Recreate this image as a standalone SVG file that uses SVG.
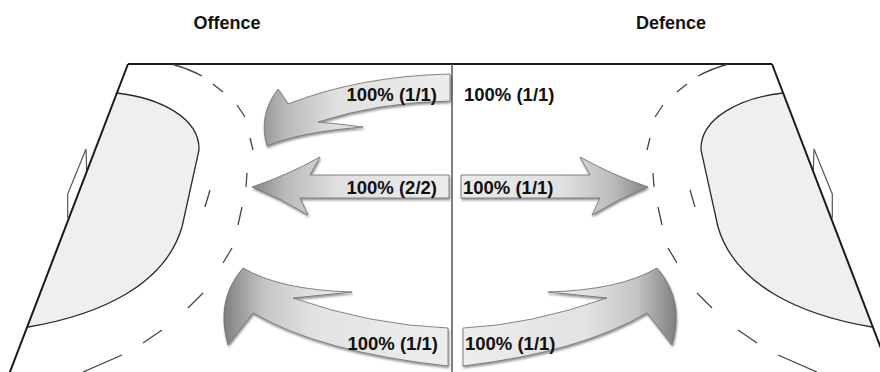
<svg xmlns="http://www.w3.org/2000/svg" width="880" height="372" viewBox="0 0 880 372">
  <style>
    .court { fill: none; stroke: #1a1a1a; stroke-width: 2; }
    .mid { fill: none; stroke: #555; stroke-width: 1.5; }
    .area { fill: #efefef; stroke: #2a2a2a; stroke-width: 1.3; }
    .goal { fill: none; stroke: #555; stroke-width: 1.2; }
    .dash { fill: none; stroke: #444; stroke-width: 1.3; stroke-linecap: butt; }
    .title { font-family: "Liberation Sans", Arial, sans-serif; font-weight: bold; font-size: 18px; fill: #111; text-anchor: middle; }
    .lbl { font-family: "Liberation Sans", Arial, sans-serif; font-weight: bold; font-size: 18.5px; fill: #111; }
    .arrL { fill: url(#gL); stroke: #6a6a6a; stroke-width: 0.8; filter: url(#sh); }
    .arrR { fill: url(#gR); stroke: #6a6a6a; stroke-width: 0.8; filter: url(#sh); }
    .arrLb { fill: url(#gLb); stroke: #6a6a6a; stroke-width: 0.8; filter: url(#sh); }
    .arrRb { fill: url(#gRb); stroke: #6a6a6a; stroke-width: 0.8; filter: url(#sh); }
  </style>
  <defs>
    <linearGradient id="gL" gradientUnits="userSpaceOnUse" x1="450" y1="0" x2="245" y2="0">
      <stop offset="0" stop-color="#ececec"/>
      <stop offset="0.55" stop-color="#e0e0e0"/>
      <stop offset="0.8" stop-color="#bababa"/>
      <stop offset="1" stop-color="#7a7a7a"/>
    </linearGradient>
    <linearGradient id="gR" gradientUnits="userSpaceOnUse" x1="450" y1="0" x2="655" y2="0">
      <stop offset="0" stop-color="#ececec"/>
      <stop offset="0.55" stop-color="#e0e0e0"/>
      <stop offset="0.8" stop-color="#bababa"/>
      <stop offset="1" stop-color="#7a7a7a"/>
    </linearGradient>
    <linearGradient id="gLb" gradientUnits="userSpaceOnUse" x1="450" y1="0" x2="222" y2="0">
      <stop offset="0" stop-color="#eeeeee"/>
      <stop offset="0.6" stop-color="#e2e2e2"/>
      <stop offset="0.82" stop-color="#c4c4c4"/>
      <stop offset="1" stop-color="#7c7c7c"/>
    </linearGradient>
    <linearGradient id="gRb" gradientUnits="userSpaceOnUse" x1="450" y1="0" x2="678" y2="0">
      <stop offset="0" stop-color="#eeeeee"/>
      <stop offset="0.6" stop-color="#e2e2e2"/>
      <stop offset="0.82" stop-color="#c4c4c4"/>
      <stop offset="1" stop-color="#7c7c7c"/>
    </linearGradient>
    <filter id="sh" x="-10%" y="-20%" width="120%" height="150%">
      <feDropShadow dx="0.8" dy="1.8" stdDeviation="1" flood-color="#000" flood-opacity="0.45"/>
    </filter>
    <g id="half">
      <path class="area" d="M117,93 C160,98 200,118 199,150 L182,227 C165,285 100,315 28,327"/>
      <polyline class="goal" points="86.7,171.7 86,149 67.7,194 67.7,218"/>
      <path class="dash" d="M173,64.5 Q189,69 202,76 M213,84 L223,92 M237,105 L245,117 M250,138 L253,150 M247,173 L246,187 M242,207 L238,225 M232,248 L223,263 M203,293 L188,308 M162,330 L143,343 M122,355 L83,372 M210,190 L205,207"/>
      <line class="court" x1="128" y1="64" x2="8" y2="377"/>
    </g>
  </defs>

  <g id="court">
    <line class="court" x1="128" y1="64" x2="772" y2="64"/>
    <line class="mid" x1="452" y1="64" x2="452" y2="372"/>
  </g>
  <g id="left-goal-area">
    <use href="#half"/>
  </g>
  <g id="right-goal-area">
    <use href="#half" transform="matrix(-1 0 0 1 900 0)"/>
  </g>

  <g id="titles">
    <text class="title" x="227" y="29">Offence</text>
    <text class="title" x="671" y="29">Defence</text>
  </g>

  <g id="connectors">
    <path class="arrL" d="M450,74 Q360,76 288,104 L278,89 Q258,115 267,146 Q300,132 363,127 Q340,124 318,122 Q380,102 450,101 Z"/>
    <path class="arrL" d="M449,175 L310,175 L320,157 Q288,175 252,187 Q282,199 308,215 L300,198 L449,198 Z"/>
    <path class="arrR" d="M461,175 L590,175 L580,157 Q612,175 648,187 Q618,199 592,215 L600,198 L461,198 Z"/>
    <path class="arrLb" d="M448,328 Q370,325 293,298 L352,292 Q280,290 243,268 Q215,300 228,345 L253,313 Q320,352 448,366 Z"/>
    <path class="arrRb" d="M463,328 Q530,325 607,298 L548,292 Q620,290 657,268 Q685,300 672,345 L647,313 Q580,352 463,366 Z"/>
  </g>

  <g id="labels">
    <text class="lbl" x="437" y="101" text-anchor="end">100% (1/1)</text>
    <text class="lbl" x="464" y="101">100% (1/1)</text>
    <text class="lbl" x="437" y="194" text-anchor="end">100% (2/2)</text>
    <text class="lbl" x="463" y="194">100% (1/1)</text>
    <text class="lbl" x="438" y="350" text-anchor="end">100% (1/1)</text>
    <text class="lbl" x="465" y="350">100% (1/1)</text>
  </g>
</svg>
